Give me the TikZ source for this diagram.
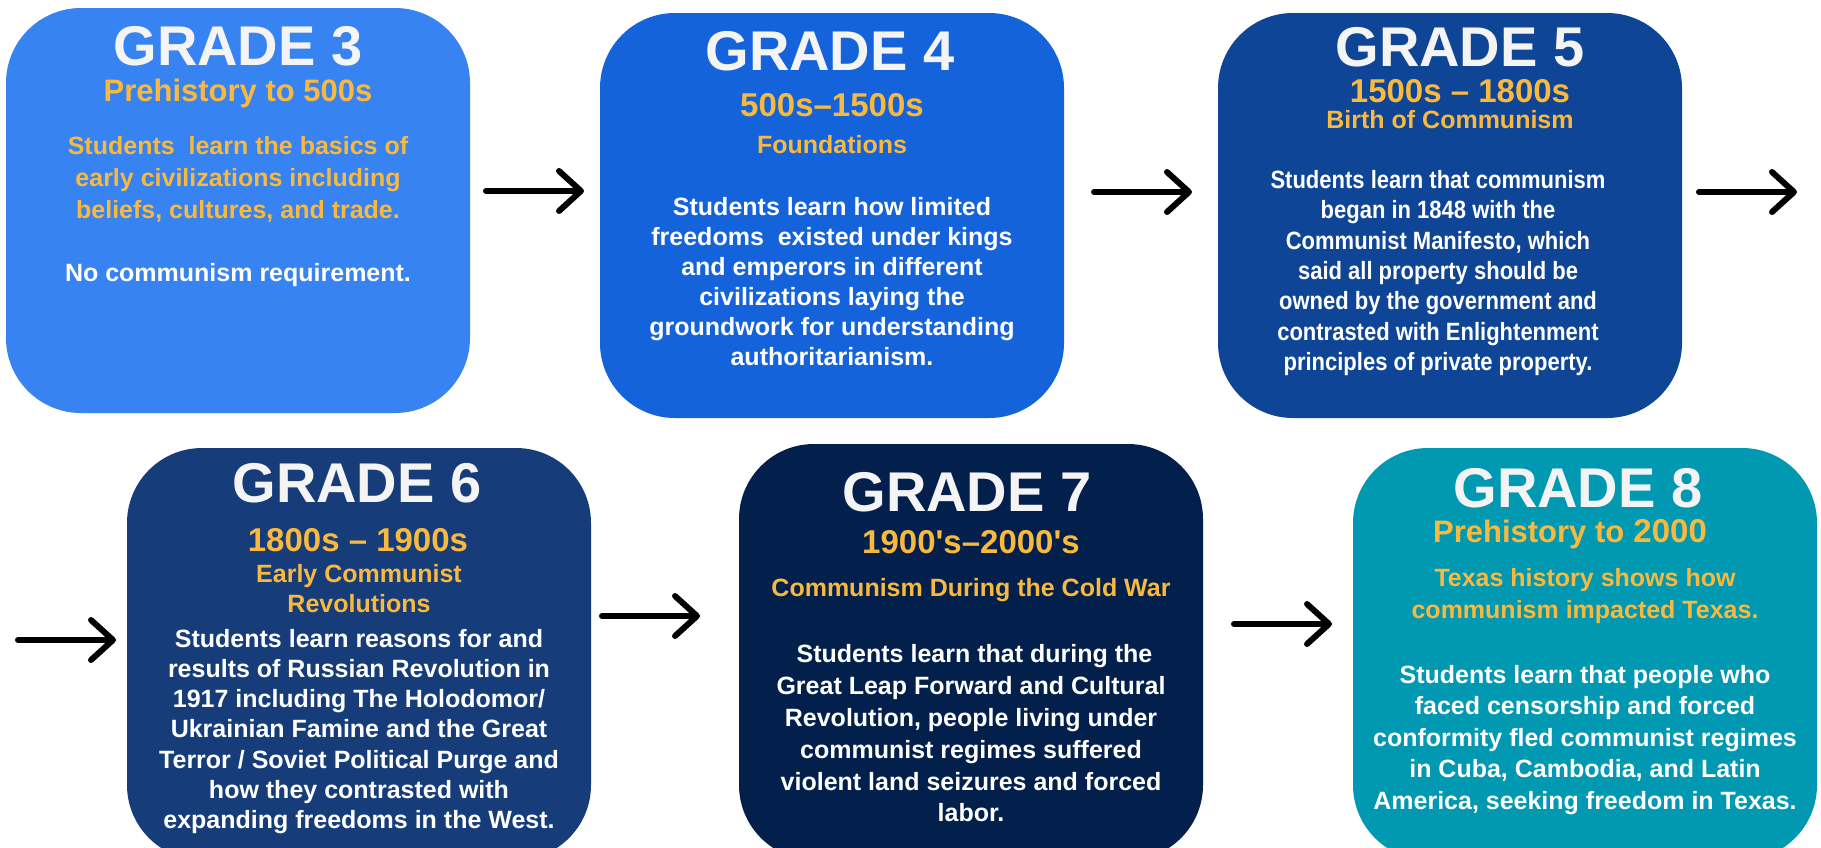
\documentclass[tikz,border=0pt]{standalone}
\usepackage{fontspec}
\setmainfont{Liberation Sans}
\newfontfamily\narrowsans[FakeStretch=0.88]{Liberation Sans}
\usetikzlibrary{arrows.meta}
\definecolor{cA}{HTML}{3783F1}
\definecolor{cB}{HTML}{1563DA}
\definecolor{cC}{HTML}{0F4597}
\definecolor{cD}{HTML}{163D7A}
\definecolor{cE}{HTML}{03204C}
\definecolor{cF}{HTML}{0199B2}
\definecolor{gold}{HTML}{F8B93E}
\definecolor{titlewhite}{HTML}{F4F4F4}
\begin{document}
\begin{tikzpicture}[x=1pt,y=-1pt,
  gradebox/.style={rounded corners=75pt, inner sep=0pt, outer sep=0pt, minimum width=464pt},
  titletext/.style={text=titlewhite, inner sep=0pt, font=\bfseries\fontsize{56}{60}\selectfont},
  datetext/.style={text=gold, inner sep=0pt, align=center, font=\bfseries\fontsize{33}{36}\selectfont},
  subtext/.style={text=gold, inner sep=0pt, align=center, font=\bfseries\fontsize{25}{30}\selectfont},
  bodytext/.style={text=white, inner sep=0pt, align=center},
  arr/.style={line width=6pt, line cap=round, -{Straight Barb[length=22pt,width=40pt,round]}}
]
\useasboundingbox (0,0) rectangle (1821,847);
\clip (0,0) rectangle (1821,847);
\fill[white] (0,0) rectangle (1821,847);

% boxes
\node[gradebox, fill=cA, minimum height=405pt] (b3) at (238,210.5) {};
\node[gradebox, fill=cB, minimum height=405pt] (b4) at (832,215.5) {};
\node[gradebox, fill=cC, minimum height=405pt] (b5) at (1450,215.5) {};
\node[gradebox, fill=cD, minimum height=412pt] (b6) at (359,654) {};
\node[gradebox, fill=cE, minimum height=416pt] (b7) at (971,652) {};
\node[gradebox, fill=cF, minimum height=412pt] (b8) at (1585,654) {};

% Grade 3
\node[titletext] (g3) at (238,46) {GRADE 3};
\node[datetext, font=\bfseries\fontsize{31}{36}\selectfont] (d3) at (238,93) {Prehistory to 500s};
\node[subtext, font=\bfseries\fontsize{25}{32}\selectfont] (s3) at (238,179) {Students\ \ learn the basics of\\early civilizations including\\beliefs, cultures, and trade.};
\node[bodytext, font=\bfseries\fontsize{25}{30}\selectfont] (x3) at (238,275) {No communism requirement.};

% Grade 4
\node[titletext] (g4) at (830,51) {GRADE 4};
\node[datetext] (d4) at (832,105) {500s–1500s};
\node[subtext] (s4) at (832,145) {Foundations};
\node[bodytext, font=\bfseries\fontsize{25}{30}\selectfont] (x4) at (832,282) {Students learn how limited\\freedoms\ \ existed under kings\\and emperors in different\\civilizations laying the\\groundwork for understanding\\authoritarianism.};

% Grade 5
\node[titletext] (g5) at (1460,47) {GRADE 5};
\node[datetext] (d5) at (1460,91) {1500s – 1800s};
\node[subtext] (s5) at (1450,120) {Birth of Communism};
\node[bodytext, font=\narrowsans\bfseries\fontsize{25}{30.3}\selectfont] (x5) at (1438,273) {Students learn that communism\\began in 1848 with the\\Communist Manifesto, which\\said all property should be\\owned by the government and\\contrasted with Enlightenment\\principles of private property.};

% Grade 6
\node[titletext] (g6) at (357,483) {GRADE 6};
\node[datetext] (d6) at (358,540) {1800s – 1900s};
\node[subtext] (s6) at (359,589) {Early Communist\\Revolutions};
\node[bodytext, font=\bfseries\fontsize{25}{30.2}\selectfont] (x6) at (359,731.5) {Students learn reasons for and\\results of Russian Revolution in\\1917 including The Holodomor/\\Ukrainian Famine and the Great\\Terror / Soviet Political Purge and\\how they contrasted with\\expanding freedoms in the West.};

% Grade 7
\node[titletext] (g7) at (967,492) {GRADE 7};
\node[datetext] (d7) at (971,542) {1900\textquotesingle s–2000\textquotesingle s};
\node[subtext] (s7) at (971,590) {Communism During the Cold War};
\node[bodytext, font=\bfseries\fontsize{25}{31.8}\selectfont] (x7) at (971,733.5) {\ Students learn that during the\\Great Leap Forward and Cultural\\Revolution, people living under\\communist regimes suffered\\violent land seizures and forced\\labor.};

% Grade 8
\node[titletext] (g8) at (1578,488) {GRADE 8};
\node[datetext] (d8) at (1570,534) {{\fontsize{31}{36}\selectfont Prehistory to} 2000};
\node[subtext, font=\bfseries\fontsize{25}{32}\selectfont] (s8) at (1585,596) {Texas history shows how\\communism impacted Texas.};
\node[bodytext, font=\bfseries\fontsize{25}{31.5}\selectfont] (x8) at (1585,740) {Students learn that people who\\faced censorship and forced\\conformity fled communist regimes\\in Cuba, Cambodia, and Latin\\America, seeking freedom in Texas.};

% arrows
\coordinate (a1s) at (486,191); \coordinate (a1e) at (584,191);
\coordinate (a2s) at (1094,192); \coordinate (a2e) at (1192,192);
\coordinate (a3s) at (1699,192); \coordinate (a3e) at (1797,192);
\coordinate (a4s) at (18,640); \coordinate (a4e) at (116,640);
\coordinate (a5s) at (602,616); \coordinate (a5e) at (700,616);
\coordinate (a6s) at (1234,624); \coordinate (a6e) at (1332,624);
\draw[arr] (a1s) -- (a1e);
\draw[arr] (a2s) -- (a2e);
\draw[arr] (a3s) -- (a3e);
\draw[arr] (a4s) -- (a4e);
\draw[arr] (a5s) -- (a5e);
\draw[arr] (a6s) -- (a6e);
\end{tikzpicture}
\end{document}
